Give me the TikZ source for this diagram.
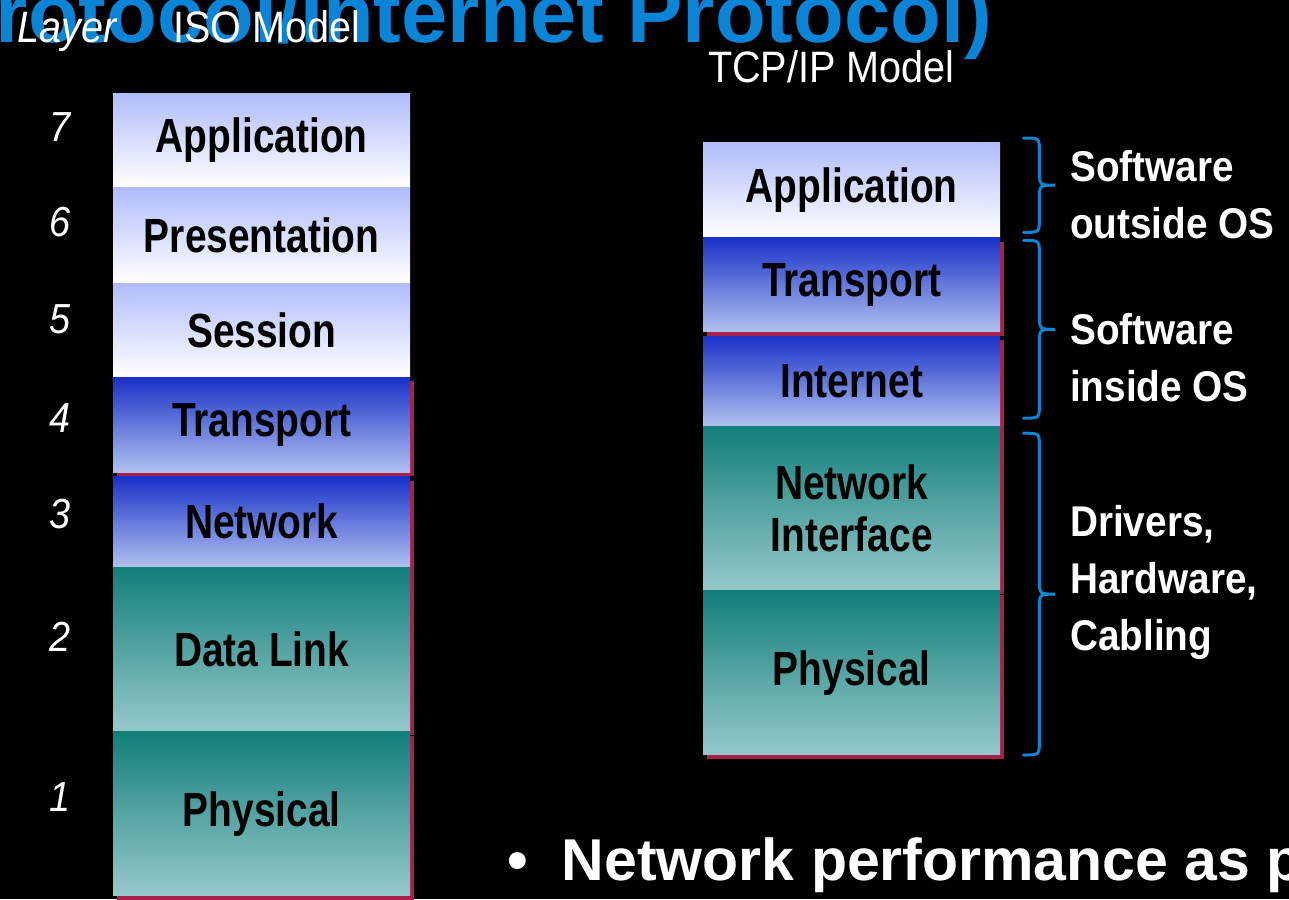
\documentclass[tikz,border=0pt]{standalone}
\usepackage{fontspec}
\usepackage{xcolor}
\usetikzlibrary{positioning,shadows,calc}
\setmainfont{Liberation Sans}
\newfontfamily\boxfont[FakeStretch=0.81]{Liberation Sans}
\newfontfamily\sidefont[FakeStretch=0.9]{Liberation Sans}
\definecolor{titleblue}{HTML}{0A84D6}
\definecolor{lightblue}{HTML}{B0BCFC}
\definecolor{deepblue}{HTML}{1A32C8}
\definecolor{midblue}{HTML}{8F9DE2}
\definecolor{paleblue}{HTML}{B0C0EF}
\definecolor{deepteal}{HTML}{127F7B}
\definecolor{midteal}{HTML}{6EAAA8}
\definecolor{paleteal}{HTML}{96C9C9}
\definecolor{crimson}{HTML}{A8204C}
\tikzset{
  layer/.style={minimum width=297pt,inner sep=0pt,align=center,text=black,
    font=\boxfont\bfseries\fontsize{48}{52}\selectfont},
  shadowed/.style={drop shadow={shadow xshift=4pt,shadow yshift=-4pt,fill=crimson,opacity=1}},
  lightlayer/.style={layer,top color=lightblue,bottom color=white},
  bluelayer/.style={layer,shadowed,top color=deepblue,middle color=midblue,bottom color=paleblue},
  teallayer/.style={layer,shadowed,top color=deepteal,middle color=midteal,bottom color=paleteal},
  heading/.style={text=white,inner sep=0pt,font=\sidefont\fontsize{44}{48}\selectfont},
  laynum/.style={text=white,inner sep=0pt,font=\sidefont\itshape\fontsize{42}{46}\selectfont},
  sidelabel/.style={text=white,inner sep=0pt,align=left,font=\sidefont\bfseries\fontsize{43}{57}\selectfont},
  curly/.style={draw=titleblue,line width=3pt,line cap=round,
    to path={let \p1=(\tikztostart),\p2=(\tikztotarget),\p3=($(\p1)!.5!(\p2)$) in
      (\p1) .. controls (\x1+16pt,\y1) .. (\x1+16pt,\y1-14pt) -- (\x1+16pt,\y3+14pt)
      .. controls (\x1+16pt,\y3) .. (\x1+32pt,\y3) .. controls (\x1+16pt,\y3) .. (\x1+16pt,\y3-14pt)
      -- (\x1+16pt,\y2+14pt) .. controls (\x1+16pt,\y2) .. (\p2)}}
}
\begin{document}
\begin{tikzpicture}[x=1pt,y=-1pt,node distance=0pt]
  \useasboundingbox (0,0) rectangle (1289,899);
  \clip (0,0) rectangle (1289,899);
  \fill[black] (0,0) rectangle (1289,899);

  \node[anchor=base east,inner sep=0pt,text=titleblue,font=\bfseries\fontsize{83}{87}\selectfont]
    (title) at (992,42) {rotocol/Internet Protocol)};

  \node[heading,anchor=base west] (layerhead) at (17,43) {\itshape Layer};
  \node[heading,anchor=base west] (isohead) at (173,43) {ISO Model};
  \node[heading,anchor=base west] (tcphead) at (708,82) {TCP/IP Model};

  \foreach \n/\y in {7/127,6/222,5/319,4/418,3/514,2/637,1/797}
    \node[laynum] (num\n) at (60,\y) {\n};

  \node[lightlayer,minimum height=94pt,anchor=north west] (iso7) at (113,93) {Application};
  \node[lightlayer,minimum height=95pt,below=of iso7] (iso6) {Presentation};
  \node[lightlayer,minimum height=94pt,below=of iso6] (iso5) {Session};
  \node[bluelayer,minimum height=95pt,below=of iso5] (iso4) {Transport};
  \node[bluelayer,minimum height=90pt,below=4pt of iso4] (iso3) {Network};
  \node[teallayer,minimum height=164pt,below=of iso3] (iso2) {Data Link};
  \node[teallayer,minimum height=164pt,below=of iso2] (iso1) {Physical};

  \node[lightlayer,minimum height=95pt,anchor=north west] (tcpapp) at (703,142) {Application};
  \node[bluelayer,minimum height=94pt,below=of tcpapp] (tcptrans) {Transport};
  \node[bluelayer,minimum height=90pt,below=4pt of tcptrans] (tcpnet) {Internet};
  \node[teallayer,minimum height=164pt,below=of tcpnet] (tcpif) {Network\\Interface};
  \node[teallayer,minimum height=164pt,below=of tcpif] (tcpphys) {Physical};

  \path
    ([xshift=23pt,yshift=4pt]tcpapp.north east) edge[curly] ([xshift=23pt,yshift=5pt]tcpapp.south east)
    ([xshift=23pt,yshift=-3pt]tcptrans.north east) edge[curly] ([xshift=23pt,yshift=8pt]tcpnet.south east)
    ([xshift=23pt,yshift=-7pt]tcpif.north east) edge[curly] ([xshift=23pt]tcpphys.south east);

  \node[sidelabel,anchor=west] (outside) at (1070,195) {Software\\outside OS};
  \node[sidelabel,anchor=west] (inside) at (1070,358) {Software\\inside OS};
  \node[sidelabel,anchor=west] (hardware) at (1070,582) {Drivers,\\Hardware,\\Cabling};

  \node[anchor=base west,inner sep=0pt,text=white,font=\bfseries\fontsize{59}{64}\selectfont]
    (bullet) at (507,880) {\textbullet\hspace{34pt}Network performance as p};
\end{tikzpicture}
\end{document}
